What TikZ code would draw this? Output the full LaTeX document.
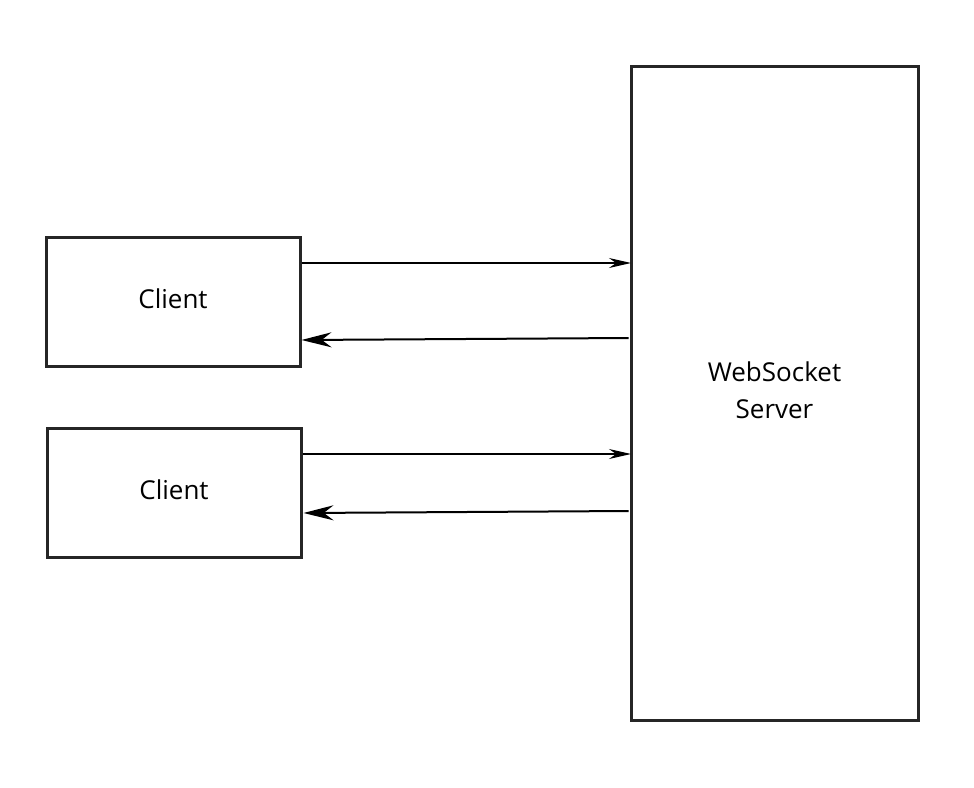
\documentclass[tikz,border=0pt]{standalone}
\usepackage{fontspec}
\setmainfont{Open Sans}
\usetikzlibrary{arrows.meta}

\begin{document}
\begin{tikzpicture}[x=1pt,y=-1pt,line join=miter,
  box/.style={draw=black!85,line width=3pt,inner sep=0pt,align=center,text depth=6pt,font=\fontsize{26}{37}\selectfont},
  fwd/.style={-{Stealth[length=22pt,width=10pt]},line width=1.2pt},
  back/.style={-{Stealth[length=30pt,width=15pt]},line width=2pt}]
\useasboundingbox (0,0) rectangle (974,787);
\node[box,minimum width=254pt,minimum height=129pt] (c1) at (173,301.5) {Client};
\node[box,minimum width=254pt,minimum height=129pt] (c2) at (174,492.5) {Client};
\node[box,minimum width=287pt,minimum height=654pt] (srv) at (774.5,393) {WebSocket\\Server};

\draw[fwd] ([yshift=38.5pt]c1.east) -- ([xshift=1.5pt,yshift=38.5pt]c1.east -| srv.west);
\draw[back] ([xshift=-1pt,yshift=-36.5pt]c1.east -| srv.west) -- ([xshift=0pt,yshift=-38.5pt]c1.east);
\draw[fwd] ([yshift=38.5pt]c2.east) -- ([xshift=1.5pt,yshift=38.5pt]c2.east -| srv.west);
\draw[back] ([xshift=-1pt,yshift=-18.5pt]c2.east -| srv.west) -- ([xshift=1pt,yshift=-20.5pt]c2.east);
\end{tikzpicture}
\end{document}
